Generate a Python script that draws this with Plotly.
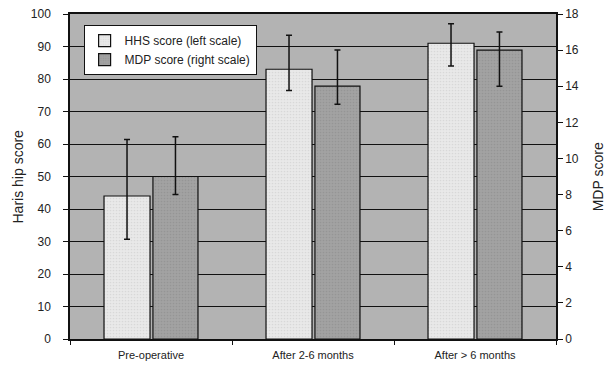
import plotly.graph_objects as go

categories = ["Pre-operative", "After 2-6 months", "After > 6 months"]

hhs_values = [44, 83, 91]
hhs_err_high = [61.4, 93.5, 97.0]
hhs_err_low = [30.7, 76.5, 84.0]

mdp_values = [9, 14, 16]
mdp_err_high = [11.2, 16.0, 17.0]
mdp_err_low = [8.0, 13.0, 14.0]

left_ticks = list(range(0, 101, 10))
right_ticks = list(range(0, 19, 2))

FONT = "Liberation Sans, Arial, sans-serif"

fig = go.Figure()

fig.add_trace(go.Bar(
    x=categories, y=hhs_values, name="HHS score (left scale)",
    yaxis="y", offset=-0.29, width=0.284,
    marker=dict(color="#e9e9e9", line=dict(color="#111111", width=1.2),
                pattern=dict(shape=".", fgcolor="#c8c8c8", size=3, solidity=0.25)),
    error_y=dict(type="data", symmetric=False,
                 array=[h - v for h, v in zip(hhs_err_high, hhs_values)],
                 arrayminus=[v - l for l, v in zip(hhs_err_low, hhs_values)],
                 color="#111111", thickness=1.5, width=3),
))

fig.add_trace(go.Bar(
    x=categories, y=mdp_values, name="MDP score (right scale)",
    yaxis="y2", offset=0.012, width=0.278,
    marker=dict(color="#a2a2a2", line=dict(color="#111111", width=1.2),
                pattern=dict(shape=".", fgcolor="#888888", size=3, solidity=0.25)),
    error_y=dict(type="data", symmetric=False,
                 array=[h - v for h, v in zip(mdp_err_high, mdp_values)],
                 arrayminus=[v - l for l, v in zip(mdp_err_low, mdp_values)],
                 color="#111111", thickness=1.5, width=3),
))

title_font = dict(size=14, family=FONT, color="#222222")

# page body has an 8px margin, so the figure is sized/shifted to compensate
fig.update_layout(
    width=604, height=364,
    margin=dict(l=62, r=56, t=6, b=33, autoexpand=False),
    paper_bgcolor="white",
    plot_bgcolor="#b3b3b3",
    font=dict(family=FONT, color="#222222", size=12),
    showlegend=True,
    legend=dict(x=0.028, y=0.966, xanchor="left", yanchor="top",
                bgcolor="white", bordercolor="#111111", borderwidth=1,
                font=dict(size=12, family=FONT, color="#222222"),
                itemwidth=30, tracegroupgap=2),
    xaxis=dict(
        type="category", showgrid=False, automargin=False,
        showline=True, linecolor="#111111", linewidth=1.5, mirror=True,
        ticks="outside", tickson="boundaries", ticklen=4, tickcolor="#111111",
        ticklabelstandoff=5,
        tickfont=dict(size=11, family=FONT, color="#222222"),
        range=[-0.5, 2.5],
    ),
    yaxis=dict(
        range=[0, 100], tickvals=left_ticks, automargin=False,
        showgrid=True, gridcolor="#111111", gridwidth=1.2,
        showline=True, linecolor="#111111", linewidth=1.5,
        ticks="outside", ticklen=5, tickcolor="#111111", ticklabelstandoff=10,
        ticklabeloverflow="allow",
        tickfont=dict(size=12, family=FONT, color="#222222"),
        zeroline=False,
    ),
    yaxis2=dict(
        range=[0, 18], tickvals=right_ticks, overlaying="y", side="right", automargin=False,
        showgrid=False,
        showline=True, linecolor="#111111", linewidth=1.5,
        ticks="outside", ticklen=5, tickcolor="#111111",
        ticklabeloverflow="allow",
        tickfont=dict(size=12, family=FONT, color="#222222"),
        zeroline=False,
    ),
    annotations=[
        dict(text="Haris hip score", xref="paper", yref="paper", x=-0.107, y=0.5,
             xanchor="center", yanchor="middle", textangle=-90, showarrow=False, font=title_font),
        dict(text="MDP score", xref="paper", yref="paper", x=1.086, y=0.5,
             xanchor="center", yanchor="middle", textangle=-90, showarrow=False, font=title_font),
    ],
)

fig.write_html("out.html")
